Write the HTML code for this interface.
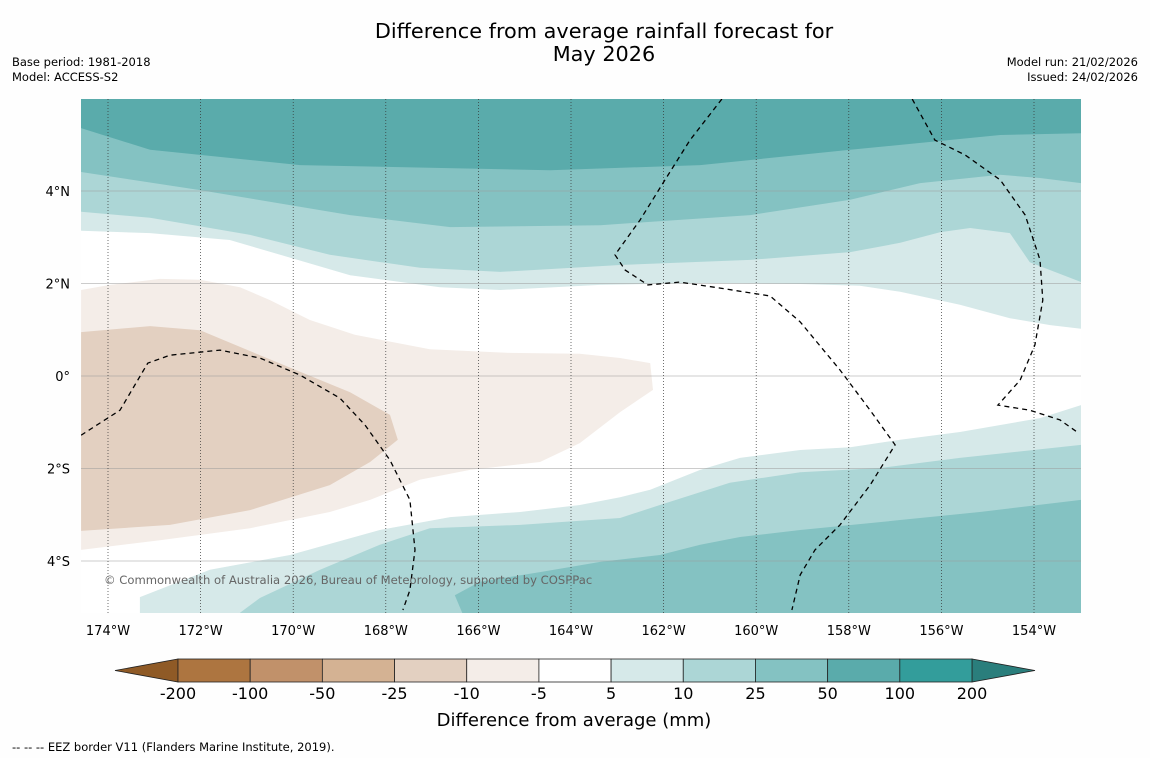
<!DOCTYPE html>
<html><head><meta charset="utf-8">
<style>
body{margin:0;background:#fff;width:1150px;height:758px;overflow:hidden;font-family:"DejaVu Sans","Liberation Sans",sans-serif;}
svg text{font-family:"DejaVu Sans","Liberation Sans",sans-serif;}
</style></head>
<body>
<svg id="chart" width="1150" height="758" xmlns="http://www.w3.org/2000/svg">
<rect x="0" y="0" width="1150" height="758" fill="#fefefe"/>
<text x="604" y="38" font-size="20.8" text-anchor="middle">Difference from average rainfall forecast for</text>
<text x="604" y="61" font-size="20.8" text-anchor="middle">May 2026</text>
<text x="12" y="66" font-size="11.5">Base period: 1981-2018</text>
<text x="12" y="81" font-size="11.5">Model: ACCESS-S2</text>
<text x="1138" y="66" font-size="11.5" text-anchor="end">Model run: 21/02/2026</text>
<text x="1138" y="81" font-size="11.5" text-anchor="end">Issued: 24/02/2026</text>
<g id="map"></g>
<g id="cbar"></g>
<text x="574" y="726" font-size="18" text-anchor="middle">Difference from average (mm)</text>
<text x="12" y="751" font-size="11.5">--  --  -- EEZ border V11 (Flanders Marine Institute, 2019).</text>
</svg>
<script>
const NS="http://www.w3.org/2000/svg";
const lonTicks=[-174,-172,-170,-168,-166,-164,-162,-160,-158,-156,-154];
const latTicks=[4,2,0,-2,-4];
const cbLevels=["-200","-100","-50","-25","-10","-5","5","10","25","50","100","200"];
const cbColors=["#ad7540","#c1916a","#d4b293","#e3d0c1","#f4ede8","#ffffff","#d6e9e9","#acd6d6","#84c2c2","#5aabab","#339d9b"];
const cbExtendColors=["#8f5a26","#2a7e7c"];
// contour boundary lines [lon,lat]
const topDark=[[-174.58,5.36],[-173.09,4.89],[-169.85,4.56],[-164.45,4.45],[-161.21,4.56],[-157.97,4.89],[-154.73,5.21],[-152.98,5.25]];
const top50=[[-174.58,4.41],[-172.01,4.02],[-168.77,3.48],[-166.61,3.22],[-163.37,3.26],[-160.13,3.48],[-157.97,3.81],[-156.46,4.17],[-154.73,4.35],[-153.87,4.28],[-152.98,4.17]];
const top25=[[-174.58,3.55],[-173.09,3.42],[-170.93,3.05],[-169.21,2.62],[-167.26,2.34],[-165.53,2.25],[-162.94,2.4],[-160.13,2.51],[-157.97,2.68],[-156.89,2.88],[-156.03,3.11],[-155.38,3.2],[-154.52,3.09],[-154.09,2.46],[-152.98,2.03]];
const top10=[[-174.58,3.14],[-173.09,3.09],[-171.37,2.94],[-170.28,2.62],[-168.77,2.18],[-166.83,1.92],[-165.53,1.86],[-163.37,1.97],[-161.21,2.01],[-159.05,1.99],[-157.76,1.95],[-156.89,1.82],[-155.6,1.54],[-154.52,1.25],[-153.65,1.1],[-152.98,1.02]];
const bot10=[[-173.31,-5.12],[-173.31,-4.78],[-171.8,-4.19],[-170.07,-3.87],[-168.13,-3.33],[-166.61,-3.05],[-165.1,-2.94],[-163.81,-2.79],[-162.94,-2.62],[-162.29,-2.46],[-161.21,-2.03],[-160.35,-1.77],[-159.05,-1.6],[-157.97,-1.54],[-156.89,-1.38],[-155.6,-1.21],[-153.87,-0.91],[-152.98,-0.63]];
const bot25=[[-171.15,-5.12],[-170.72,-4.8],[-169.42,-4.19],[-168.13,-3.65],[-167.05,-3.29],[-165.1,-3.22],[-162.94,-3.07],[-162.08,-2.79],[-160.57,-2.31],[-159.05,-2.08],[-157.33,-1.99],[-155.6,-1.77],[-152.98,-1.49]];
const bot50=[[-166.35,-5.12],[-166.51,-4.74],[-165.97,-4.45],[-164.67,-4.24],[-163.37,-4.02],[-162.08,-3.87],[-161.21,-3.65],[-160.35,-3.48],[-159.05,-3.33],[-157.33,-3.16],[-155.17,-2.94],[-152.98,-2.68]];
const brown5=[[-174.58,1.86],[-173.96,1.97],[-172.88,2.1],[-172.01,2.08],[-171.15,1.92],[-170.5,1.64],[-169.64,1.21],[-168.67,0.89],[-167.05,0.58],[-165.32,0.5],[-163.81,0.48],[-162.94,0.39],[-162.29,0.28],[-162.23,-0.3],[-162.94,-0.78],[-163.81,-1.45],[-164.67,-1.86],[-166.18,-2.03],[-167.26,-2.24],[-168.34,-2.68],[-169.21,-2.94],[-170.93,-3.29],[-172.88,-3.55],[-174.58,-3.76]];
const brown10=[[-174.58,0.95],[-173.09,1.08],[-172.01,0.99],[-171.15,0.63],[-169.85,0.09],[-168.77,-0.35],[-167.91,-0.84],[-167.74,-1.38],[-168.34,-1.86],[-169.21,-2.36],[-170.93,-2.9],[-172.66,-3.22],[-174.58,-3.35]];
const eez1=[[-174.58,-1.28],[-173.74,-0.74],[-173.14,0.28],[-172.66,0.45],[-171.58,0.56],[-170.72,0.39],[-169.85,0.02],[-168.99,-0.48],[-168.45,-1.06],[-167.91,-1.82],[-167.48,-2.68],[-167.37,-3.76],[-167.48,-4.63],[-167.63,-5.06]];
const eez2=[[-160.74,5.99],[-161.43,5.1],[-161.97,4.24],[-162.51,3.37],[-163.05,2.62],[-162.83,2.29],[-162.34,1.97],[-161.65,2.03],[-160.78,1.9],[-159.7,1.73],[-159.05,1.17],[-158.19,0.13],[-157.54,-0.74],[-157.0,-1.49],[-157.54,-2.36],[-158.19,-3.22],[-158.73,-3.76],[-159.05,-4.3],[-159.23,-5.06]];
const eez3=[[-156.63,5.99],[-156.14,5.1],[-155.49,4.78],[-154.73,4.24],[-154.19,3.48],[-153.87,2.51],[-153.81,1.64],[-153.98,0.67],[-154.3,-0.09],[-154.78,-0.63],[-154.09,-0.74],[-153.44,-0.95],[-153.07,-1.21]];
const LON0=-174.58,LON1=-152.98,LAT0=-5.12,LAT1=5.99;
const X0=81,X1=1081,Y0=99,Y1=613;
const sx=lon=>108+(lon+174)*46.3;
const sy=lat=>376-lat*46.25;
const map=document.getElementById('map');
function mk(tag,attrs,parent){const e=document.createElementNS(NS,tag);for(const k in attrs)e.setAttribute(k,attrs[k]);parent.appendChild(e);return e;}
const clip=mk('clipPath',{id:'mc'},map);mk('rect',{x:X0,y:Y0,width:X1-X0,height:Y1-Y0},clip);
const g=mk('g',{'clip-path':'url(#mc)'},map);


mk('rect',{x:X0,y:Y0,width:X1-X0,height:Y1-Y0,fill:'#ffffff'},g);
const pts=a=>a.map(p=>sx(p[0]).toFixed(1)+','+sy(p[1]).toFixed(1)).join(' ');
function band(line,top,color,name){
  const a=line.slice();
  if(top){a.push([LON1,LAT1+0.2],[LON0-0.2,LAT1+0.2]);}
  else{a.push([LON1+0.2,LAT0-0.2],[a[0][0],LAT0-0.2]);}
  const p=mk('polygon',{points:pts(a),fill:color},g);
  
  
}
band(top10,true,cbColors[6],'band-10-25-north');
band(top25,true,cbColors[7],'band-25-50-north');
band(top50,true,cbColors[8],'band-50-100-north');
band(topDark,true,cbColors[9],'band-100-200-north');
band(bot10,false,cbColors[6],'band-10-25-south');
band(bot25,false,cbColors[7],'band-25-50-south');
band(bot50,false,cbColors[8],'band-50-100-south');
let bp=mk('polygon',{points:pts(brown5),fill:cbColors[4]},g);


bp=mk('polygon',{points:pts(brown10),fill:cbColors[3]},g);


// grid
latTicks.forEach(lat=>{
  const l=mk('line',{x1:X0,x2:X1,y1:sy(lat),y2:sy(lat),stroke:'#999',"stroke-width":0.6},g);
  
  
  const t=mk('text',{x:70,y:sy(lat)+5,'font-size':13,'text-anchor':'end'},map);
  t.textContent=lat===0?'0°':Math.abs(lat)+'°'+(lat>0?'N':'S');
  
  
});
lonTicks.forEach(lon=>{
  const l=mk('line',{x1:sx(lon),x2:sx(lon),y1:Y0,y2:Y1,stroke:'#333',"stroke-width":0.7,"stroke-dasharray":'1,2'},g);
  
  
  const t=mk('text',{x:sx(lon),y:635,'font-size':13,'text-anchor':'middle'},map);
  t.textContent=Math.abs(lon)+'°W';
  
  
});
[eez1,eez2,eez3].forEach(a=>{
  const p=mk('polyline',{points:pts(a),fill:'none',stroke:'#000','stroke-width':1.3,'stroke-dasharray':'5,4'},g);
  
  
});
const cp=mk('text',{x:104,y:584,'font-size':11.6,fill:'#666'},g);
cp.textContent='© Commonwealth of Australia 2026, Bureau of Meteorology, supported by COSPPac';


// colorbar
const cb=document.getElementById('cbar');
const cx0=178,cx1=972,cy0=659,cy1=682,cw=(cx1-cx0)/cbColors.length;
let tri=mk('polygon',{points:`${cx0},${cy0} ${cx0},${cy1} 115,670.5`,fill:cbExtendColors[0],stroke:'#222','stroke-width':0.8},cb);


tri=mk('polygon',{points:`${cx1},${cy0} ${cx1},${cy1} 1035,670.5`,fill:cbExtendColors[1],stroke:'#222','stroke-width':0.8},cb);


cbColors.forEach((c,i)=>{
  const r=mk('rect',{x:cx0+i*cw,y:cy0,width:cw,height:cy1-cy0,fill:c,stroke:'#222','stroke-width':0.8},cb);
  
  
});
cbLevels.forEach((s,i)=>{
  const t=mk('text',{x:cx0+i*cw,y:699,'font-size':16,'text-anchor':'middle'},cb);
  t.textContent=s;
  
  
});
</script>
</body></html>
